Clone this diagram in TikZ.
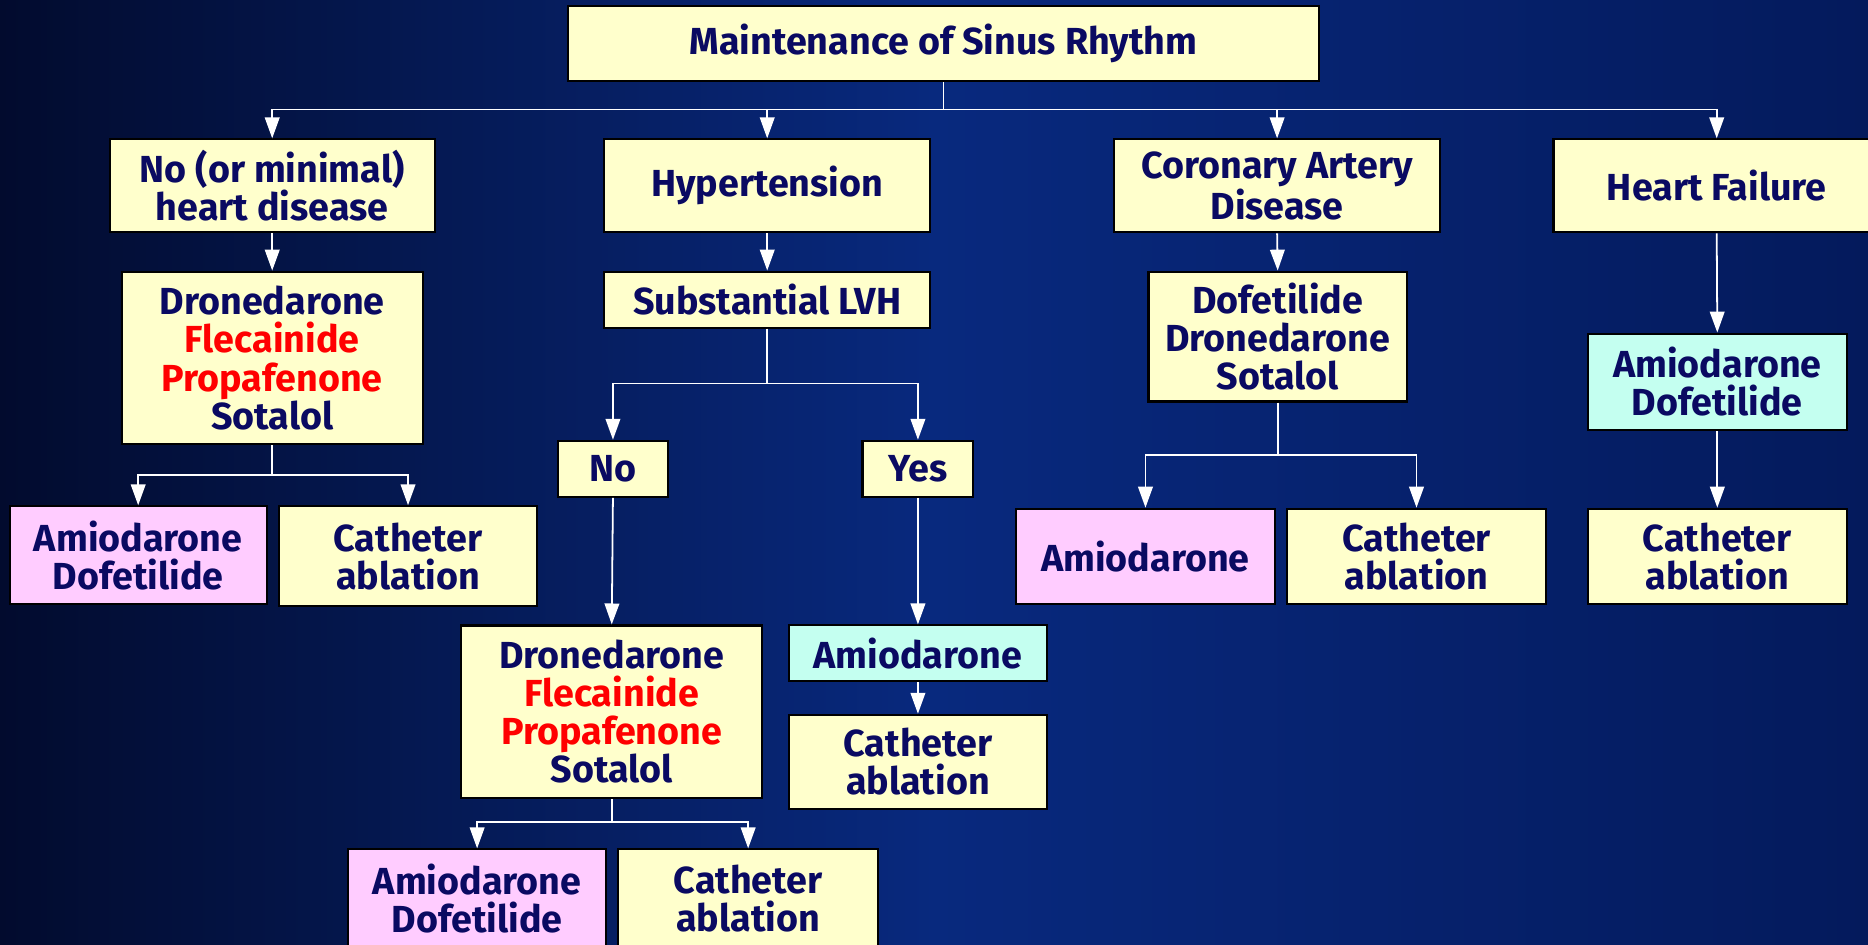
\documentclass[tikz,border=0pt]{standalone}
\usepackage{fontspec}
\setmainfont{Fira Sans}
\usetikzlibrary{arrows.meta}
\definecolor{navy}{HTML}{0A0A62}
\definecolor{boxyellow}{HTML}{FFFFCC}
\definecolor{boxpink}{HTML}{FFCCFF}
\definecolor{boxcyan}{HTML}{C4FFF0}
\definecolor{bgleft}{HTML}{020B2E}
\definecolor{bgmid}{HTML}{08297E}
\definecolor{bgright}{HTML}{041A5C}
\definecolor{drugred}{HTML}{FF0000}
\tikzset{
  bx/.style={draw=black, line width=1pt, fill=boxyellow, inner sep=0pt, align=center,
    text=navy, font=\fontsize{18}{18.2}\selectfont\bfseries},
  pinkbx/.style={bx, fill=boxpink},
  cyanbx/.style={bx, fill=boxcyan},
  arr/.style={draw=white, line width=0.85pt, -{Triangle[length=10pt,width=7pt,fill=white]}},
  ln/.style={draw=white, line width=0.85pt}
}
\newcommand{\rd}[1]{\textcolor{drugred}{#1}}
\begin{document}
\begin{tikzpicture}[x=0.02cm, y=-0.02cm]
\useasboundingbox (0,0) rectangle (1568,793);
\clip (0,0) rectangle (1568,793);
\shade[left color=bgleft, right color=bgright, middle color=bgmid] (0,0) rectangle (1568,793);

% nodes
\node[bx, minimum width=12.62cm, minimum height=1.26cm] (top) at (792,36.5) {Maintenance of Sinus Rhythm};

\node[bx, minimum width=5.46cm, minimum height=1.56cm] (A) at (228.5,156) {No (or minimal)\\heart disease};
\node[bx, minimum width=5.48cm, minimum height=1.56cm] (B) at (644,156) {Hypertension};
\node[bx, minimum width=5.48cm, minimum height=1.56cm] (C) at (1072,156) {Coronary Artery\\Disease};
\node[bx, minimum width=5.48cm, minimum height=1.56cm] (D) at (1441,156) {Heart Failure};

\node[bx, minimum width=5.06cm, minimum height=2.9cm] (A2) at (228.5,300.5) {Dronedarone\\\rd{Flecainide}\\\rd{Propafenone}\\Sotalol};
\node[bx, minimum width=5.48cm, minimum height=0.94cm] (B2) at (644,251.5) {Substantial LVH};
\node[bx, minimum width=4.34cm, minimum height=2.18cm] (C2) at (1072.5,282.5) {Dofetilide\\Dronedarone\\Sotalol};
\node[cyanbx, minimum width=4.34cm, minimum height=1.62cm] (D2) at (1441.5,320.5) {Amiodarone\\Dofetilide};

\node[pinkbx, minimum width=4.32cm, minimum height=1.64cm] (A3a) at (116,466) {Amiodarone\\Dofetilide};
\node[bx, minimum width=4.34cm, minimum height=1.68cm] (A3b) at (342.5,467) {Catheter\\ablation};

\node[bx, minimum width=1.86cm, minimum height=0.94cm] (B3a) at (514.5,393.5) {No};
\node[bx, minimum width=1.86cm, minimum height=0.94cm] (B3b) at (770.5,393.5) {Yes};

\node[bx, minimum width=5.06cm, minimum height=2.9cm] (B4a) at (513.5,597.5) {Dronedarone\\\rd{Flecainide}\\\rd{Propafenone}\\Sotalol};
\node[cyanbx, minimum width=4.34cm, minimum height=0.94cm] (B4b) at (770.5,548.5) {Amiodarone};
\node[bx, minimum width=4.34cm, minimum height=1.58cm] (B5b) at (770.5,639.5) {Catheter\\ablation};

\node[pinkbx, minimum width=4.34cm, minimum height=1.64cm] (B5a1) at (400.5,754) {Amiodarone\\Dofetilide};
\node[bx, minimum width=4.36cm, minimum height=1.64cm] (B5a2) at (628,754) {Catheter\\ablation};

\node[pinkbx, minimum width=4.34cm, minimum height=1.6cm] (C3a) at (961.5,467) {Amiodarone};
\node[bx, minimum width=4.36cm, minimum height=1.6cm] (C3b) at (1189,467) {Catheter\\ablation};
\node[bx, minimum width=4.34cm, minimum height=1.6cm] (D3) at (1441.5,467) {Catheter\\ablation};

% junctions
\coordinate (j0) at (792,92);
\coordinate (jA) at (228.5,399);
\coordinate (jB) at (644,322);
\coordinate (jC) at (1072.5,382);
\coordinate (jB4) at (513.5,690);

% connectors
\draw[ln] (top.south) -- (j0);
\draw[arr] (j0) -| (A.north);
\draw[arr] (j0) -| (B.north);
\draw[arr] (j0) -| (C.north);
\draw[arr] (j0) -| (D.north);

\draw[arr] (A.south) -- (A2.north);
\draw[arr] (B.south) -- (B2.north);
\draw[arr] (C.south) -- (C2.north);
\draw[arr] (D.south) -- (D2.north);

\draw[ln] (A2.south) -- (jA);
\draw[arr] (jA) -| (A3a.north);
\draw[arr] (jA) -| (A3b.north);

\draw[ln] (B2.south) -- (jB);
\draw[arr] (jB) -| (B3a.north);
\draw[arr] (jB) -| (B3b.north);

\draw[arr] (B3a.south) -- (B4a.north);
\draw[arr] (B3b.south) -- (B4b.north);
\draw[arr] (B4b.south) -- (B5b.north);

\draw[ln] (B4a.south) -- (jB4);
\draw[arr] (jB4) -| (B5a1.north);
\draw[arr] (jB4) -| (B5a2.north);

\draw[ln] (C2.south) -- (jC);
\draw[arr] (jC) -| (C3a.north);
\draw[arr] (jC) -| (C3b.north);

\draw[arr] (D2.south) -- (D3.north);
\end{tikzpicture}
\end{document}
